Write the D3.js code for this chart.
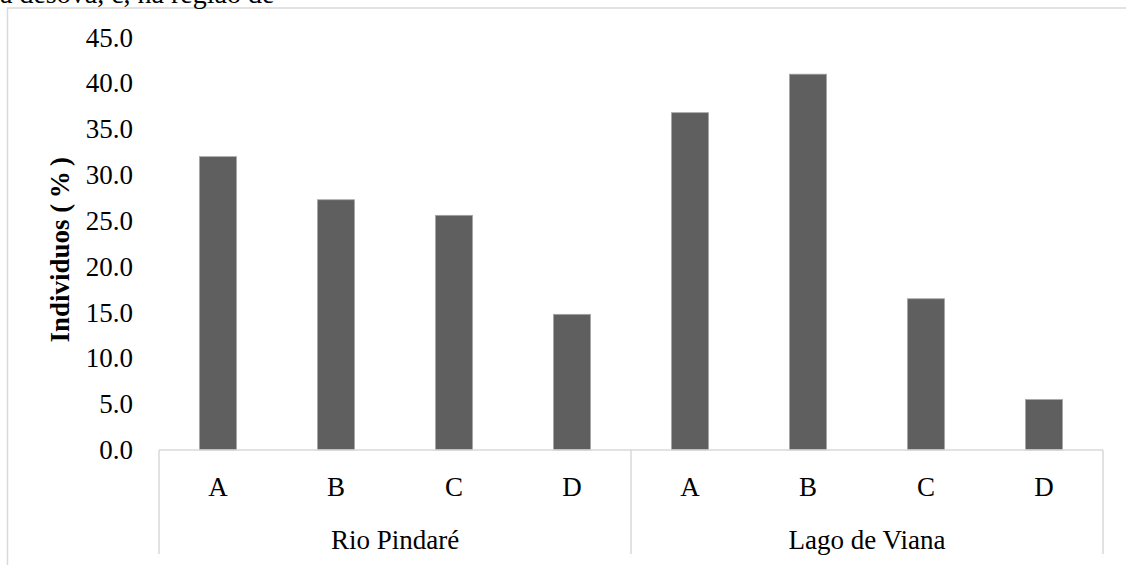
<!DOCTYPE html>
<html><head><meta charset="utf-8">
<script src="https://cdn.jsdelivr.net/npm/d3@7"></script>
<style>html,body{margin:0;padding:0;background:#fff;}svg{display:block;}</style>
</head><body>
<svg id="chart" width="1126" height="565"></svg>
<script>
const groups = ["Rio Pindaré", "Lago de Viana"];
const categories = ["A", "B", "C", "D"];
const rioValues = [32.0, 27.3, 25.6, 14.8];
const lagoValues = [36.8, 41.0, 16.5, 5.5];
const yTicks = [0, 5, 10, 15, 20, 25, 30, 35, 40, 45];
const yTitle = "Individuos (\u2009%\u2009)";
const topText = "a desova, c, na região de";

(function () {
const seriesByGroup = [rioValues, lagoValues];
const data = [];
groups.forEach((g, gi) => categories.forEach((c, ci) => data.push({group: g, cat: c, key: g + "|" + c, value: seriesByGroup[gi][ci]})));

const svg = d3.select("#chart");
const font = "'Liberation Serif','Times New Roman',serif";
const fs = 27;
const pLeft = 159, pRight = 1103, pBase = 450, pTop = 37.5;

svg.append("path").attr("d", "M7.5,565 V8 H1126").attr("fill", "none").attr("stroke", "#d9d9d9").attr("stroke-width", 1.5);

svg.append("text").attr("x", 0).attr("y", 3).attr("font-family", font).attr("font-size", 28).attr("fill", "#000").text(topText);

const x = d3.scaleBand().domain(data.map(d => d.key)).range([pLeft, pRight]).paddingInner(0.686).paddingOuter(0.343);
const y = d3.scaleLinear().domain([0, 45]).range([pBase, pTop]);

const yAxis = d3.axisLeft(y).tickValues(yTicks).tickFormat(d3.format(".1f")).tickSize(0).tickPadding(26);
const ya = svg.append("g").attr("transform", `translate(${pLeft},0)`).call(yAxis);
ya.select(".domain").remove();
ya.selectAll("text").attr("font-family", font).attr("font-size", fs).attr("fill", "#000");

svg.append("g").selectAll("rect").data(data).join("rect")
  .attr("x", d => x(d.key)).attr("width", x.bandwidth())
  .attr("y", d => y(d.value)).attr("height", d => pBase - y(d.value))
  .attr("fill", "#5f5f5f").attr("stroke", "#a6a6a6").attr("stroke-width", 0.8);

const axisColor = "#d9d9d9";
const ax = svg.append("g").attr("stroke", axisColor).attr("stroke-width", 1.5);
ax.append("line").attr("x1", pLeft).attr("x2", pRight).attr("y1", pBase).attr("y2", pBase);
const step = x.step();
const groupEdges = [pLeft, pLeft + step * categories.length, pRight];
groupEdges.forEach(gx => ax.append("line").attr("x1", gx).attr("x2", gx).attr("y1", pBase).attr("y2", 554));

svg.append("g").selectAll("text").data(data).join("text")
  .attr("x", d => x(d.key) + x.bandwidth() / 2).attr("y", 487)
  .attr("text-anchor", "middle").attr("dominant-baseline", "central")
  .attr("font-family", font).attr("font-size", fs).attr("fill", "#000").text(d => d.cat);

svg.append("g").selectAll("text").data(groups).join("text")
  .attr("x", (g, i) => (groupEdges[i] + groupEdges[i + 1]) / 2).attr("y", 540)
  .attr("text-anchor", "middle").attr("dominant-baseline", "central")
  .attr("font-family", font).attr("font-size", fs).attr("fill", "#000").text(g => g);

svg.append("text").attr("transform", `translate(60,${(pBase + pTop) / 2 + 6}) rotate(-90)`)
  .attr("text-anchor", "middle").attr("dominant-baseline", "central")
  .attr("font-family", font).attr("font-size", fs).attr("font-weight", "bold").attr("fill", "#000").text(yTitle);
})();
</script>
</body></html>
